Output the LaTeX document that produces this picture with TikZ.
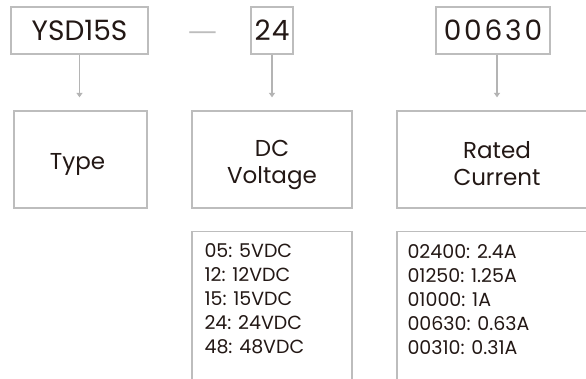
\documentclass[tikz,border=0pt]{standalone}
\usepackage{fontspec}
\setmainfont{Poppins}
\usepackage{xcolor}
\usetikzlibrary{positioning,arrows.meta,calc}
\definecolor{ink}{HTML}{231815}
\definecolor{frame}{HTML}{BDBDBD}
\definecolor{pointer}{HTML}{B4B4B4}

\begin{document}
\begin{tikzpicture}[
  x=1pt, y=-1pt,
  box/.style={draw=frame, line width=1.3pt, fill=white, inner sep=0pt, text=ink},
  codebox/.style={box, minimum height=47pt, font=\fontsize{28}{30}\selectfont},
  namebox/.style={box, minimum height=97pt},
  nametext/.style={align=center, inner sep=0pt, text=ink, font=\fontsize{23}{27}\selectfont},
  listbox/.style={box, minimum height=160pt},
  listtext/.style={anchor=north west, inner sep=0pt, align=left, text=ink, font=\fontsize{19}{24}\selectfont},
  arr/.style={-{Triangle[width=6pt, length=4.5pt]}, draw=pointer, line width=1.3pt, shorten >=13pt}]
  \useasboundingbox (0,0) rectangle (586,379);
  \clip (0,0) rectangle (586,379);
  \fill[white] (0,0) rectangle (586,379);
  % code row
  \node[codebox, minimum width=137pt] (ysd) at (79.5,30.5) {YSD15S};
  \node[text=frame, font=\fontsize{24}{28}\selectfont\addfontfeatures{FakeStretch=1.5}] (dash) at (202.5,37) {\textemdash};
  \node[codebox, minimum width=42pt] (volt) at (272,30.5) {\addfontfeatures{LetterSpace=4}24};
  \node[codebox, minimum width=114pt] (amps) at (493,30.5) {\addfontfeatures{LetterSpace=10}00630};
  % meaning row
  \node[namebox, minimum width=133pt] (type) at (80.5,159.5) {};
  \node[namebox, minimum width=160pt] (dcv) at (272,159.5) {};
  \node[namebox, minimum width=200pt] (rated) at (497,159.5) {};
  \node[nametext] (typetxt) at ([xshift=-3pt, yshift=-5pt]type.center) {Type};
  \node[nametext] (dcvtxt) at ([yshift=-5pt]dcv.center) {DC\\Voltage};
  \node[nametext] (ratedtxt) at ([yshift=-4pt]rated.center) {Rated\\Current};
  % value lists
  \node[listbox, minimum width=160pt] (vbox) at (272,311.5) {};
  \node[listbox, minimum width=200pt] (abox) at (497,311.5) {};
  \node[listtext] (vlist) at ($(vbox.north west)+(13,13)$) {05: 5VDC\\12: 12VDC\\15: 15VDC\\24: 24VDC\\48: 48VDC};
  \node[listtext] (alist) at ($(abox.north west)+(11,13)$) {02400: 2.4A\\01250: 1.25A\\01000: 1A\\00630: 0.63A\\00310: 0.31A};
  % pointers
  \draw[arr] (ysd.south) -- (ysd.south |- type.north);
  \draw[arr] (volt.south) -- (dcv.north);
  \draw[arr] (amps.south -| rated.north) -- (rated.north);
\end{tikzpicture}
\end{document}
